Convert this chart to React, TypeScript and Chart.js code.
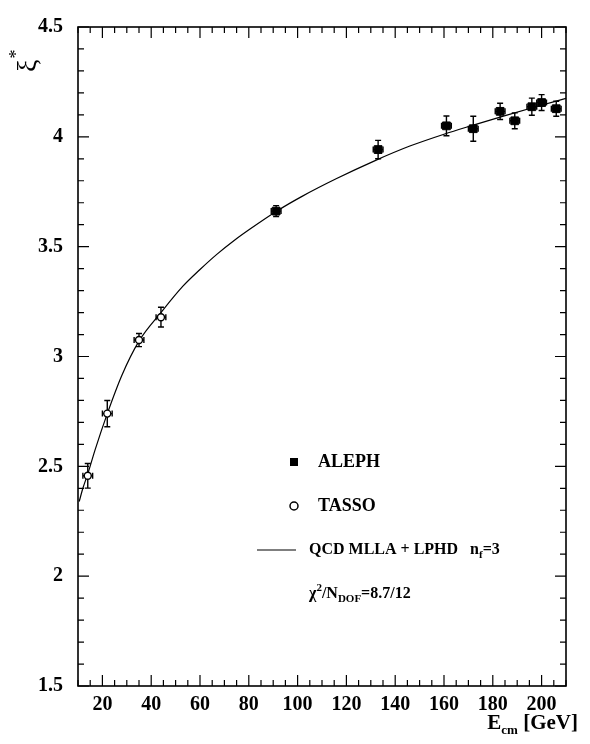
import React, { useEffect, useRef } from "react";
import { Chart, registerables } from "chart.js";
Chart.register(...registerables);

// ---- data ----
const alephE = [91.2, 133, 161, 172, 183, 189, 196, 200, 206];
const alephXi = [3.662, 3.942, 4.05, 4.037, 4.116, 4.073, 4.137, 4.156, 4.128];
const alephErr = [0.025, 0.042, 0.045, 0.057, 0.037, 0.036, 0.039, 0.036, 0.034];
const alephEErr = [2, 2, 2, 2, 2, 2, 2, 2, 2];

const tassoE = [14, 22, 35, 44];
const tassoXi = [2.457, 2.74, 3.075, 3.179];
const tassoErr = [0.056, 0.06, 0.03, 0.045];
const tassoEErr = [2, 2, 2, 2];

const curveE = [10.5, 12, 14, 17, 22, 28, 35, 44, 53, 60, 67, 74, 80.5, 91.2, 102, 116, 132, 146, 160, 171, 184, 198, 210];
const curveXi = [2.34, 2.4, 2.465, 2.575, 2.74, 2.915, 3.07, 3.2, 3.32, 3.396, 3.466, 3.528, 3.58, 3.66, 3.73, 3.81, 3.893, 3.958, 4.012, 4.05, 4.093, 4.138, 4.175];

const xTickValues = [20, 40, 60, 80, 100, 120, 140, 160, 180, 200];
const yTickValues = [1.5, 2, 2.5, 3, 3.5, 4, 4.5];
const xRange = [10, 210];
const yRange = [1.5, 4.5];

const SERIF = '"Liberation Serif", "Times New Roman", serif';

const errorBarPlugin = {
  id: "errorBars",
  beforeDatasetsDraw(chart: any) {
    const ctx = chart.ctx;
    const xs = chart.scales.x;
    const ys = chart.scales.y;
    const sets = [
      { e: alephE, v: alephXi, err: alephErr, xe: alephEErr },
      { e: tassoE, v: tassoXi, err: tassoErr, xe: tassoEErr },
    ];
    ctx.save();
    ctx.strokeStyle = "#000";
    ctx.lineWidth = 1.4;
    for (const s of sets) {
      for (let i = 0; i < s.e.length; i++) {
        const px = xs.getPixelForValue(s.e[i]);
        const py = ys.getPixelForValue(s.v[i]);
        const y1 = ys.getPixelForValue(s.v[i] - s.err[i]);
        const y2 = ys.getPixelForValue(s.v[i] + s.err[i]);
        const x1 = xs.getPixelForValue(s.e[i] - s.xe[i]);
        const x2 = xs.getPixelForValue(s.e[i] + s.xe[i]);
        ctx.beginPath();
        ctx.moveTo(px, y1);
        ctx.lineTo(px, y2);
        ctx.moveTo(px - 3, y1);
        ctx.lineTo(px + 3, y1);
        ctx.moveTo(px - 3, y2);
        ctx.lineTo(px + 3, y2);
        ctx.moveTo(x1, py);
        ctx.lineTo(x2, py);
        ctx.moveTo(x1, py - 3);
        ctx.lineTo(x1, py + 3);
        ctx.moveTo(x2, py - 3);
        ctx.lineTo(x2, py + 3);
        ctx.stroke();
      }
    }
    ctx.restore();
  },
};

const framePlugin = {
  id: "frameTicks",
  afterDraw(chart: any) {
    const ctx = chart.ctx;
    const { left, right, top, bottom } = chart.chartArea;
    const xs = chart.scales.x;
    const ys = chart.scales.y;
    ctx.save();
    ctx.strokeStyle = "#000";
    ctx.lineWidth = 1.6;
    ctx.strokeRect(left, top, right - left, bottom - top);
    ctx.lineWidth = 1.2;
    ctx.beginPath();
    for (let v = xRange[0]; v <= xRange[1] + 1e-9; v += 5) {
      const major = xTickValues.includes(v);
      const len = major ? 11 : 6;
      const px = xs.getPixelForValue(v);
      ctx.moveTo(px, bottom);
      ctx.lineTo(px, bottom - len);
      ctx.moveTo(px, top);
      ctx.lineTo(px, top + len);
    }
    for (let k = 0; k <= 30; k++) {
      const v = yRange[0] + k * 0.1;
      const major = k % 5 === 0;
      const len = major ? 11 : 6;
      const py = ys.getPixelForValue(v);
      ctx.moveTo(left, py);
      ctx.lineTo(left + len, py);
      ctx.moveTo(right, py);
      ctx.lineTo(right - len, py);
    }
    ctx.stroke();

    ctx.fillStyle = "#000";
    // y axis title: xi* rotated
    ctx.save();
    ctx.translate(36, 72);
    ctx.rotate(-Math.PI / 2);
    ctx.font = `28px ${SERIF}`;
    ctx.textBaseline = "alphabetic";
    ctx.textAlign = "left";
    ctx.fillText("ξ", 0, 0);
    const wx = ctx.measureText("ξ").width;
    ctx.font = `18px ${SERIF}`;
    ctx.fillText("*", wx + 1, -14);
    ctx.restore();

    // x axis title: E_cm [GeV]
    ctx.textBaseline = "alphabetic";
    ctx.textAlign = "left";
    const big = `bold 21px ${SERIF}`;
    const small = `bold 13px ${SERIF}`;
    ctx.font = big;
    const wE = ctx.measureText("E").width;
    const wG = ctx.measureText(" [GeV]").width;
    ctx.font = small;
    const wcm = ctx.measureText("cm").width;
    const x0 = 578 - (wE + wcm + wG);
    const base = 729;
    ctx.font = big;
    ctx.fillText("E", x0, base);
    ctx.font = small;
    ctx.fillText("cm", x0 + wE, base + 5);
    ctx.font = big;
    ctx.fillText(" [GeV]", x0 + wE + wcm, base);

    // legend
    ctx.textBaseline = "middle";
    ctx.fillRect(294 - 4, 462 - 4, 8, 8);
    ctx.font = `bold 18px ${SERIF}`;
    ctx.fillText("ALEPH", 318, 462);

    ctx.beginPath();
    ctx.lineWidth = 1.5;
    ctx.arc(294, 506, 4, 0, Math.PI * 2);
    ctx.stroke();
    ctx.fillText("TASSO", 318, 506);

    ctx.beginPath();
    ctx.lineWidth = 1.2;
    ctx.moveTo(257, 550);
    ctx.lineTo(296, 550);
    ctx.stroke();
    ctx.font = `bold 16px ${SERIF}`;
    const q = "QCD MLLA + LPHD   n";
    ctx.fillText(q, 309, 550);
    let qx = 309 + ctx.measureText(q).width;
    ctx.font = `bold 11px ${SERIF}`;
    ctx.fillText("f", qx, 555);
    qx += ctx.measureText("f").width;
    ctx.font = `bold 16px ${SERIF}`;
    ctx.fillText("=3", qx, 550);

    let cx = 309;
    const cy = 594;
    ctx.font = `bold 16px ${SERIF}`;
    ctx.fillText("χ", cx, cy);
    cx += ctx.measureText("χ").width;
    ctx.font = `bold 11px ${SERIF}`;
    ctx.fillText("2", cx, cy - 6);
    cx += ctx.measureText("2").width;
    ctx.font = `bold 16px ${SERIF}`;
    ctx.fillText("/N", cx, cy);
    cx += ctx.measureText("/N").width;
    ctx.font = `bold 11px ${SERIF}`;
    ctx.fillText("DOF", cx, cy + 5);
    cx += ctx.measureText("DOF").width;
    ctx.font = `bold 16px ${SERIF}`;
    ctx.fillText("=8.7/12", cx, cy);
    ctx.restore();
  },
};

export default function App() {
  const ref = useRef<HTMLCanvasElement>(null);
  useEffect(() => {
    document.body.style.margin = "0";
    const canvas = ref.current!;
    const chart = new Chart(canvas, {
      type: "scatter",
      data: {
        datasets: [
          {
            label: "ALEPH",
            data: alephE.map((e, i) => ({ x: e, y: alephXi[i] })),
            pointStyle: "rect",
            pointRadius: 5.5,
            backgroundColor: "#000",
            borderColor: "#000",
            borderWidth: 1,
            showLine: false,
          },
          {
            label: "TASSO",
            data: tassoE.map((e, i) => ({ x: e, y: tassoXi[i] })),
            pointStyle: "circle",
            pointRadius: 3.5,
            backgroundColor: "#fff",
            borderColor: "#000",
            borderWidth: 1.4,
            showLine: false,
          },
          {
            label: "QCD MLLA + LPHD",
            data: curveE.map((e, i) => ({ x: e, y: curveXi[i] })),
            showLine: true,
            pointRadius: 0,
            borderColor: "#000",
            borderWidth: 1.2,
            tension: 0.4,
            cubicInterpolationMode: "monotone",
          } as any,
        ],
      },
      options: {
        animation: false,
        responsive: false,
        devicePixelRatio: 1,
        layout: { padding: { top: 14, right: 24, left: 0, bottom: 0 } },
        plugins: { legend: { display: false }, tooltip: { enabled: false } },
        scales: {
          x: {
            type: "linear",
            min: xRange[0],
            max: xRange[1],
            grid: { display: false, drawTicks: false },
            border: { display: false },
            afterBuildTicks: (axis: any) => {
              axis.ticks = xTickValues.map((value) => ({ value }));
            },
            afterFit: (axis: any) => {
              axis.height = 58;
            },
            ticks: {
              autoSkip: false,
              maxRotation: 0,
              padding: 7,
              color: "#000",
              font: { family: SERIF, weight: "bold", size: 20 },
              callback: (v: any) => String(v),
            },
          },
          y: {
            type: "linear",
            min: yRange[0],
            max: yRange[1],
            grid: { display: false, drawTicks: false },
            border: { display: false },
            afterBuildTicks: (axis: any) => {
              axis.ticks = yTickValues.map((value) => ({ value }));
            },
            afterFit: (axis: any) => {
              axis.width = 78;
            },
            ticks: {
              autoSkip: false,
              padding: 15,
              color: "#000",
              font: { family: SERIF, weight: "bold", size: 20 },
              callback: (v: any) => String(v),
            },
          },
        },
      } as any,
      plugins: [errorBarPlugin, framePlugin],
    });
    return () => chart.destroy();
  }, []);
  return (
    <div style={{ position: "absolute", left: 0, top: 0, width: 590, height: 744, background: "#fff" }}>
      <canvas ref={ref} width={590} height={744} />
    </div>
  );
}
